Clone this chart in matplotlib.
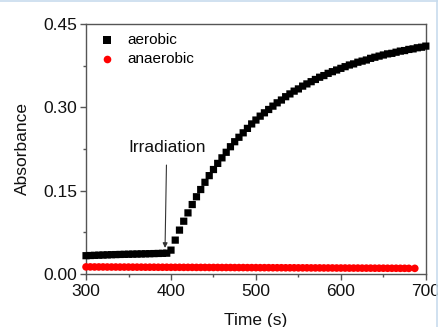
import matplotlib
matplotlib.use("Agg")
import matplotlib.pyplot as plt
from matplotlib.ticker import MultipleLocator, FormatStrFormatter
from matplotlib.lines import Line2D

plt.rcParams['font.family'] = ['Liberation Sans', 'DejaVu Sans']

# aerobic series (time s, absorbance)
aero_time = [300, 305, 310, 315, 320, 325, 330, 335, 340, 345,
             350, 355, 360, 365, 370, 375, 380, 385, 390, 395,
             400, 405, 410, 415, 420, 425, 430, 435, 440, 445,
             450, 455, 460, 465, 470, 475, 480, 485, 490, 495,
             500, 505, 510, 515, 520, 525, 530, 535, 540, 545,
             550, 555, 560, 565, 570, 575, 580, 585, 590, 595,
             600, 605, 610, 615, 620, 625, 630, 635, 640, 645,
             650, 655, 660, 665, 670, 675, 680, 685, 690, 695, 700]
aero_abs = [0.0330, 0.0333, 0.0336, 0.0339, 0.0342, 0.0345, 0.0348, 0.0350, 0.0352, 0.0354,
            0.0356, 0.0358, 0.0360, 0.0362, 0.0364, 0.0366, 0.0368, 0.0370, 0.0372, 0.0375,
            0.043, 0.061, 0.079, 0.095, 0.110, 0.125, 0.139, 0.152, 0.165, 0.177,
            0.188, 0.199, 0.209, 0.219, 0.229, 0.238, 0.246, 0.254, 0.262, 0.270,
            0.277, 0.284, 0.290, 0.296, 0.302, 0.308, 0.313, 0.319, 0.324, 0.329,
            0.333, 0.338, 0.342, 0.346, 0.350, 0.354, 0.357, 0.361, 0.364, 0.367,
            0.370, 0.373, 0.376, 0.378, 0.381, 0.383, 0.385, 0.388, 0.390, 0.392,
            0.394, 0.396, 0.397, 0.399, 0.401, 0.402, 0.404, 0.405, 0.407, 0.408, 0.410]

# anaerobic series
anaero_time = [300, 305, 310, 315, 320, 325, 330, 335, 340, 345,
               350, 355, 360, 365, 370, 375, 380, 385, 390, 395,
               400, 405, 410, 415, 420, 425, 430, 435, 440, 445,
               450, 455, 460, 465, 470, 475, 480, 485, 490, 495,
               500, 505, 510, 515, 520, 525, 530, 535, 540, 545,
               550, 555, 560, 565, 570, 575, 580, 585, 590, 595,
               600, 605, 610, 615, 620, 625, 630, 635, 640, 645,
               650, 655, 660, 665, 670, 675, 680, 687]
anaero_abs = [0.0128, 0.0128, 0.0127, 0.0127, 0.0127, 0.0126, 0.0126, 0.0126, 0.0125, 0.0125,
              0.0125, 0.0124, 0.0124, 0.0124, 0.0123, 0.0123, 0.0123, 0.0122, 0.0122, 0.0122,
              0.0121, 0.0121, 0.0121, 0.0120, 0.0120, 0.0120, 0.0119, 0.0119, 0.0119, 0.0118,
              0.0118, 0.0118, 0.0117, 0.0117, 0.0117, 0.0116, 0.0116, 0.0116, 0.0115, 0.0115,
              0.0115, 0.0114, 0.0114, 0.0114, 0.0113, 0.0113, 0.0113, 0.0112, 0.0112, 0.0112,
              0.0111, 0.0111, 0.0111, 0.0110, 0.0110, 0.0110, 0.0109, 0.0109, 0.0109, 0.0108,
              0.0108, 0.0108, 0.0107, 0.0107, 0.0107, 0.0106, 0.0106, 0.0106, 0.0105, 0.0105,
              0.0105, 0.0104, 0.0104, 0.0104, 0.0103, 0.0103, 0.0102, 0.0102]

series_labels = ['aerobic', 'anaerobic']
x_ticks = [300, 400, 500, 600, 700]
y_ticks = [0.00, 0.15, 0.30, 0.45]

fig = plt.figure(figsize=(4.39, 3.27), dpi=100)
ax = fig.add_axes([0.196, 0.162, 0.774, 0.765])

# per-point size lists keep sub-pixel marker placement (no pixel snapping)
sq_sizes = [5.2 ** 2] * len(aero_time)
ci_sizes = [5.5 ** 2] * len(anaero_time)
sc1 = ax.scatter(aero_time, aero_abs, marker='s', s=sq_sizes,
                 color='black', linewidths=0, label=series_labels[0], clip_on=False, zorder=3)
sc2 = ax.scatter(anaero_time, anaero_abs, marker='o', s=ci_sizes,
                 color='#ff0000', linewidths=0, label=series_labels[1], clip_on=False, zorder=3)
sc1.set_snap(False)
sc2.set_snap(False)

ax.set_xlim(300, 700)
ax.set_ylim(0, 0.45)
ax.set_xticks(x_ticks)
ax.set_yticks(y_ticks)
ax.xaxis.set_minor_locator(MultipleLocator(50))
ax.yaxis.set_minor_locator(MultipleLocator(0.075))
ax.yaxis.set_major_formatter(FormatStrFormatter('%.2f'))

spine_col = '#555555'
for s in ax.spines.values():
    s.set_color(spine_col)
    s.set_linewidth(1.0)
ax.tick_params(which='major', direction='out', length=4.5, width=1, color=spine_col,
               labelsize=12.5, pad=2, top=False, right=False, labelcolor='#111111')
ax.tick_params(axis='x', which='major', pad=3)
ax.tick_params(which='minor', direction='out', length=2, width=1, color=spine_col,
               top=False, right=False)

ax.set_xlabel('Time (s)', fontsize=12.5, labelpad=9.5, color='#111111')
ax.set_ylabel('Absorbance', fontsize=12.5, labelpad=9.5, color='#111111')

ax.annotate('Irradiation', xy=(393, 0.047), xytext=(395, 0.227),
            ha='center', va='center', fontsize=12.5, color='#111111',
            arrowprops=dict(arrowstyle='-|>', color='#333333', lw=0.8,
                            mutation_scale=7, shrinkA=5, shrinkB=0))

ax.legend(loc='upper left', bbox_to_anchor=(0.022, 0.988), frameon=False, fontsize=11,
          handletextpad=0.8, labelspacing=0.3, borderaxespad=0.0, borderpad=0.4,
          handlelength=1.0, scatterpoints=1)

# light blue frame lines at top and right
fig.add_artist(Line2D([0, 1], [0.998, 0.998], transform=fig.transFigure, color='#c8dced', lw=1.2))
fig.add_artist(Line2D([0.996, 0.996], [0, 1], transform=fig.transFigure, color='#c8dced', lw=1.2))

fig.savefig('out.png', dpi=100)
